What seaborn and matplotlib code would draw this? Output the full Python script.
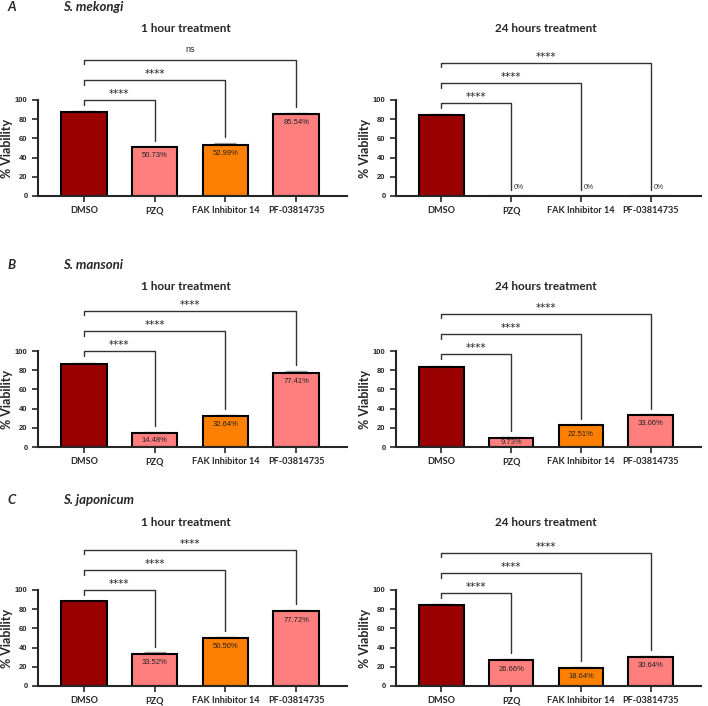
import numpy as np
import pandas as pd
import matplotlib.pyplot as plt
import seaborn as sns

groups = ['DMSO', 'PZQ', 'FAK Inhibitor 14', 'PF-03814735']
bar_colors = ['#990000', '#FF7F7F', '#FF8000', '#FF7F7F']

species = ['S. mekongi', 'S. mansoni', 'S. japonicum']
panel_tags = ['A', 'B', 'C']
times = ['1 hour treatment', '24 hours treatment']

# mean % viability and upper error
mekongi_1h = [87.9, 50.73, 52.99, 85.54]
mekongi_1h_err = [0.8, 0.8, 2.5, 0.8]
mekongi_24h = [84.4, 0, 0, 0]
mekongi_24h_err = [0.8, 0, 0, 0]
mansoni_1h = [86.6, 14.48, 32.64, 77.41]
mansoni_1h_err = [1.0, 1.2, 1.2, 1.8]
mansoni_24h = [83.6, 9.73, 22.51, 33.06]
mansoni_24h_err = [0.8, 0.8, 0.8, 0.8]
japonicum_1h = [88.2, 33.52, 50.50, 77.72]
japonicum_1h_err = [0.6, 1.5, 0.4, 1.8]
japonicum_24h = [84.5, 26.66, 18.64, 30.64]
japonicum_24h_err = [0.8, 1.2, 1.2, 0.5]

mekongi_1h_sig = ['****', '****', 'ns']
mekongi_24h_sig = ['****', '****', '****']
mansoni_1h_sig = ['****', '****', '****']
mansoni_24h_sig = ['****', '****', '****']
japonicum_1h_sig = ['****', '****', '****']
japonicum_24h_sig = ['****', '****', '****']

panels = [
    [(mekongi_1h, mekongi_1h_err, mekongi_1h_sig), (mekongi_24h, mekongi_24h_err, mekongi_24h_sig)],
    [(mansoni_1h, mansoni_1h_err, mansoni_1h_sig), (mansoni_24h, mansoni_24h_err, mansoni_24h_sig)],
    [(japonicum_1h, japonicum_1h_err, japonicum_1h_sig), (japonicum_24h, japonicum_24h_err, japonicum_24h_sig)],
]

sns.set_style('ticks')
plt.rcParams['font.family'] = ['Lato', 'DejaVu Sans']

W, H = 708, 706
fig = plt.figure(figsize=(W / 100, H / 100), dpi=100)

row_bottom = [196, 447, 686]   # pixel y of the x-axis
row_height = 96
col_left = [38, 396]
col_width = [309, 305]
title_y = [29, 287, 522]
title_x = [186, 546]
tag_y = [7, 265, 500]
bracket_levels = [[100, 121, 142], [97, 118, 139]]

for r in range(3):
    fig.text(12 / W, 1 - tag_y[r] / H, panel_tags[r], fontsize=9.5, fontweight='bold',
             fontstyle='italic', ha='center', va='center')
    fig.text(63 / W, 1 - tag_y[r] / H, species[r], fontsize=9.5, fontweight='bold',
             fontstyle='italic', ha='left', va='center')
    for c in range(2):
        vals, errs, sig = panels[r][c]
        ax = fig.add_axes([col_left[c] / W, 1 - row_bottom[r] / H, col_width[c] / W, row_height / H])
        df = pd.DataFrame({'group': groups, 'viability': vals})
        sns.barplot(data=df, x='group', y='viability', hue='group', palette=bar_colors,
                    saturation=1, width=0.64, edgecolor='black', linewidth=1.5,
                    errorbar=None, legend=False, ax=ax, zorder=2)
        ax.errorbar(np.arange(4), vals, yerr=[np.zeros(4), errs], fmt='none',
                    ecolor='#a0a0a0', elinewidth=1.0, capsize=8, capthick=1.0, zorder=1)
        ax.set_xlim(-0.65, 3.72)
        ax.set_ylim(0, 100)
        ax.set_yticks([0, 20, 40, 60, 80, 100])
        ax.set_xlabel('')
        ax.set_ylabel('% Viability', fontsize=9, fontweight='bold', labelpad=1)
        for sp in ['top', 'right']:
            ax.spines[sp].set_visible(False)
        for sp in ['left', 'bottom']:
            ax.spines[sp].set_linewidth(1.5)
        ax.tick_params(axis='both', length=4, width=1.2)
        ax.tick_params(axis='x', labelsize=6.6)
        for lab in ax.get_xticklabels():
            lab.set_fontweight('bold')
        for lab in ax.get_yticklabels():
            lab.set_fontweight('bold')
            lab.set_family('Liberation Sans')
            lab.set_fontsize(5.5)

        # value labels
        for i in range(1, 4):
            if vals[i] == 0:
                ax.text(i + 0.04, 9, '0%', fontsize=5, ha='left', va='center',
                        color='#333333', family='Liberation Sans')
            else:
                ax.text(i, max(vals[i] - 9, vals[i] / 2), f'{vals[i]:.2f}%', fontsize=5.5,
                        ha='center', va='center', color='#222222', family='Liberation Sans')

        # significance brackets
        for k, j in enumerate([1, 2, 3]):
            y = bracket_levels[c][k]
            top_j = vals[j] + errs[j] + 6
            ax.plot([0, 0, j, j], [y - 5, y, y, top_j], color='#333333', lw=1.0,
                    clip_on=False, zorder=3)
            if sig[k] == 'ns':
                ax.text(j / 2, y + 6, sig[k], fontsize=6.5, ha='center', va='bottom',
                        color='#222222', family='Liberation Sans')
            else:
                ax.text(j / 2, y + 1, sig[k], fontsize=7.5, ha='center', va='bottom',
                        color='#222222', family='DejaVu Sans')

        fig.text(title_x[c] / W, 1 - title_y[r] / H, times[c], fontsize=8.5,
                 fontweight='bold', ha='center', va='center')

fig.savefig('out.png', dpi=100)
